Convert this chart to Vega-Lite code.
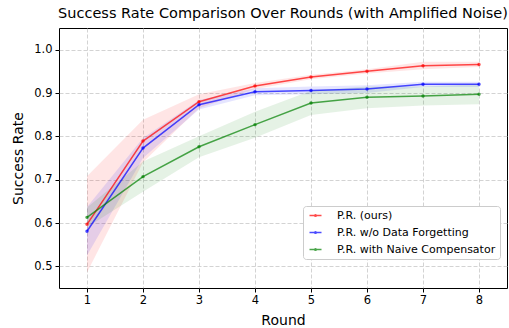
{
  "$schema": "https://vega.github.io/schema/vega-lite/v6.json",
  "autosize": "none",
  "width": 448,
  "height": 260,
  "padding": {"left": 59, "top": 28, "right": 2, "bottom": 40},
  "background": "white",
  "title": {"text": "Success Rate Comparison Over Rounds (with Amplified Noise)", "font": "DejaVu Sans", "fontSize": 14.5, "fontWeight": "normal", "color": "#000", "offset": 7, "anchor": "middle"},
  "config": {
    "font": "DejaVu Sans",
    "view": {"stroke": "black", "strokeWidth": 1},
    "axis": {
      "labelFont": "DejaVu Sans", "labelFontSize": 11.5, "labelColor": "#000",
      "titleFont": "DejaVu Sans", "titleFontSize": 14, "titleFontWeight": "normal", "titleColor": "#000",
      "tickColor": "#000", "tickSize": 4, "domain": false,
      "gridColor": "#c8c8c8", "gridDash": [4, 2], "gridWidth": 0.8
    },
    "legend": {"labelFont": "DejaVu Sans"}
  },
  "data": {"values": [
    {"round": 1, "method": "P.R. (ours)", "mean": 0.597, "lo": 0.486, "hi": 0.708},
    {"round": 2, "method": "P.R. (ours)", "mean": 0.789, "lo": 0.740, "hi": 0.838},
    {"round": 3, "method": "P.R. (ours)", "mean": 0.880, "lo": 0.865, "hi": 0.897},
    {"round": 4, "method": "P.R. (ours)", "mean": 0.916, "lo": 0.909, "hi": 0.923},
    {"round": 5, "method": "P.R. (ours)", "mean": 0.937, "lo": 0.932, "hi": 0.942},
    {"round": 6, "method": "P.R. (ours)", "mean": 0.950, "lo": 0.945, "hi": 0.955},
    {"round": 7, "method": "P.R. (ours)", "mean": 0.963, "lo": 0.955, "hi": 0.972},
    {"round": 8, "method": "P.R. (ours)", "mean": 0.966, "lo": 0.960, "hi": 0.972},
    {"round": 1, "method": "P.R. w/o Data Forgetting", "mean": 0.581, "lo": 0.525, "hi": 0.637},
    {"round": 2, "method": "P.R. w/o Data Forgetting", "mean": 0.773, "lo": 0.750, "hi": 0.796},
    {"round": 3, "method": "P.R. w/o Data Forgetting", "mean": 0.873, "lo": 0.862, "hi": 0.884},
    {"round": 4, "method": "P.R. w/o Data Forgetting", "mean": 0.903, "lo": 0.895, "hi": 0.911},
    {"round": 5, "method": "P.R. w/o Data Forgetting", "mean": 0.906, "lo": 0.897, "hi": 0.915},
    {"round": 6, "method": "P.R. w/o Data Forgetting", "mean": 0.909, "lo": 0.900, "hi": 0.918},
    {"round": 7, "method": "P.R. w/o Data Forgetting", "mean": 0.920, "lo": 0.914, "hi": 0.926},
    {"round": 8, "method": "P.R. w/o Data Forgetting", "mean": 0.920, "lo": 0.914, "hi": 0.926},
    {"round": 1, "method": "P.R. with Naive Compensator", "mean": 0.613, "lo": 0.590, "hi": 0.636},
    {"round": 2, "method": "P.R. with Naive Compensator", "mean": 0.707, "lo": 0.672, "hi": 0.742},
    {"round": 3, "method": "P.R. with Naive Compensator", "mean": 0.776, "lo": 0.752, "hi": 0.800},
    {"round": 4, "method": "P.R. with Naive Compensator", "mean": 0.827, "lo": 0.797, "hi": 0.857},
    {"round": 5, "method": "P.R. with Naive Compensator", "mean": 0.877, "lo": 0.849, "hi": 0.905},
    {"round": 6, "method": "P.R. with Naive Compensator", "mean": 0.890, "lo": 0.865, "hi": 0.915},
    {"round": 7, "method": "P.R. with Naive Compensator", "mean": 0.893, "lo": 0.871, "hi": 0.915},
    {"round": 8, "method": "P.R. with Naive Compensator", "mean": 0.897, "lo": 0.874, "hi": 0.920}
  ]},
  "encoding": {
    "x": {"field": "round", "type": "quantitative", "title": "Round",
          "scale": {"domain": [0.5, 8.5], "nice": false, "zero": false},
          "axis": {"values": [1, 2, 3, 4, 5, 6, 7, 8], "labelPadding": 2, "titlePadding": 8, "format": "d"}},
    "color": {"field": "method", "type": "nominal",
              "scale": {"domain": ["P.R. (ours)", "P.R. w/o Data Forgetting", "P.R. with Naive Compensator"], "range": ["#ff0000", "#0000ff", "#008000"]},
              "legend": {
                "title": null, "orient": "none", "legendX": 244, "legendY": 178,
                "symbolType": "M-1,0L3,0M0.72,0A0.28,0.28 0 1,0 1.28,0A0.28,0.28 0 1,0 0.72,0",
                "symbolSize": 36, "symbolStrokeWidth": 1.5, "symbolOpacity": 0.7,
                "labelFontSize": 11, "labelOffset": 19, "labelColor": "#000",
                "rowPadding": 5, "padding": 4, "fillColor": "white", "strokeColor": "#cccccc", "cornerRadius": 3,
                "symbolOffset": 0
              }}
  },
  "layer": [
    {
      "mark": {"type": "area", "fillOpacity": 0.1},
      "encoding": {
        "y": {"field": "lo", "type": "quantitative"},
        "y2": {"field": "hi"}
      }
    },
    {
      "mark": {"type": "line", "strokeWidth": 1.5, "opacity": 0.7},
      "encoding": {
        "y": {"field": "mean", "type": "quantitative", "title": "Success Rate",
              "scale": {"domain": [0.45, 1.05], "nice": false, "zero": false},
              "axis": {"values": [0.5, 0.6, 0.7, 0.8, 0.9, 1.0], "format": ".1f", "labelPadding": 3, "titlePadding": 8}}
      }
    },
    {
      "mark": {"type": "point", "filled": true, "size": 12, "opacity": 0.7},
      "encoding": {
        "y": {"field": "mean", "type": "quantitative"}
      }
    }
  ]
}
